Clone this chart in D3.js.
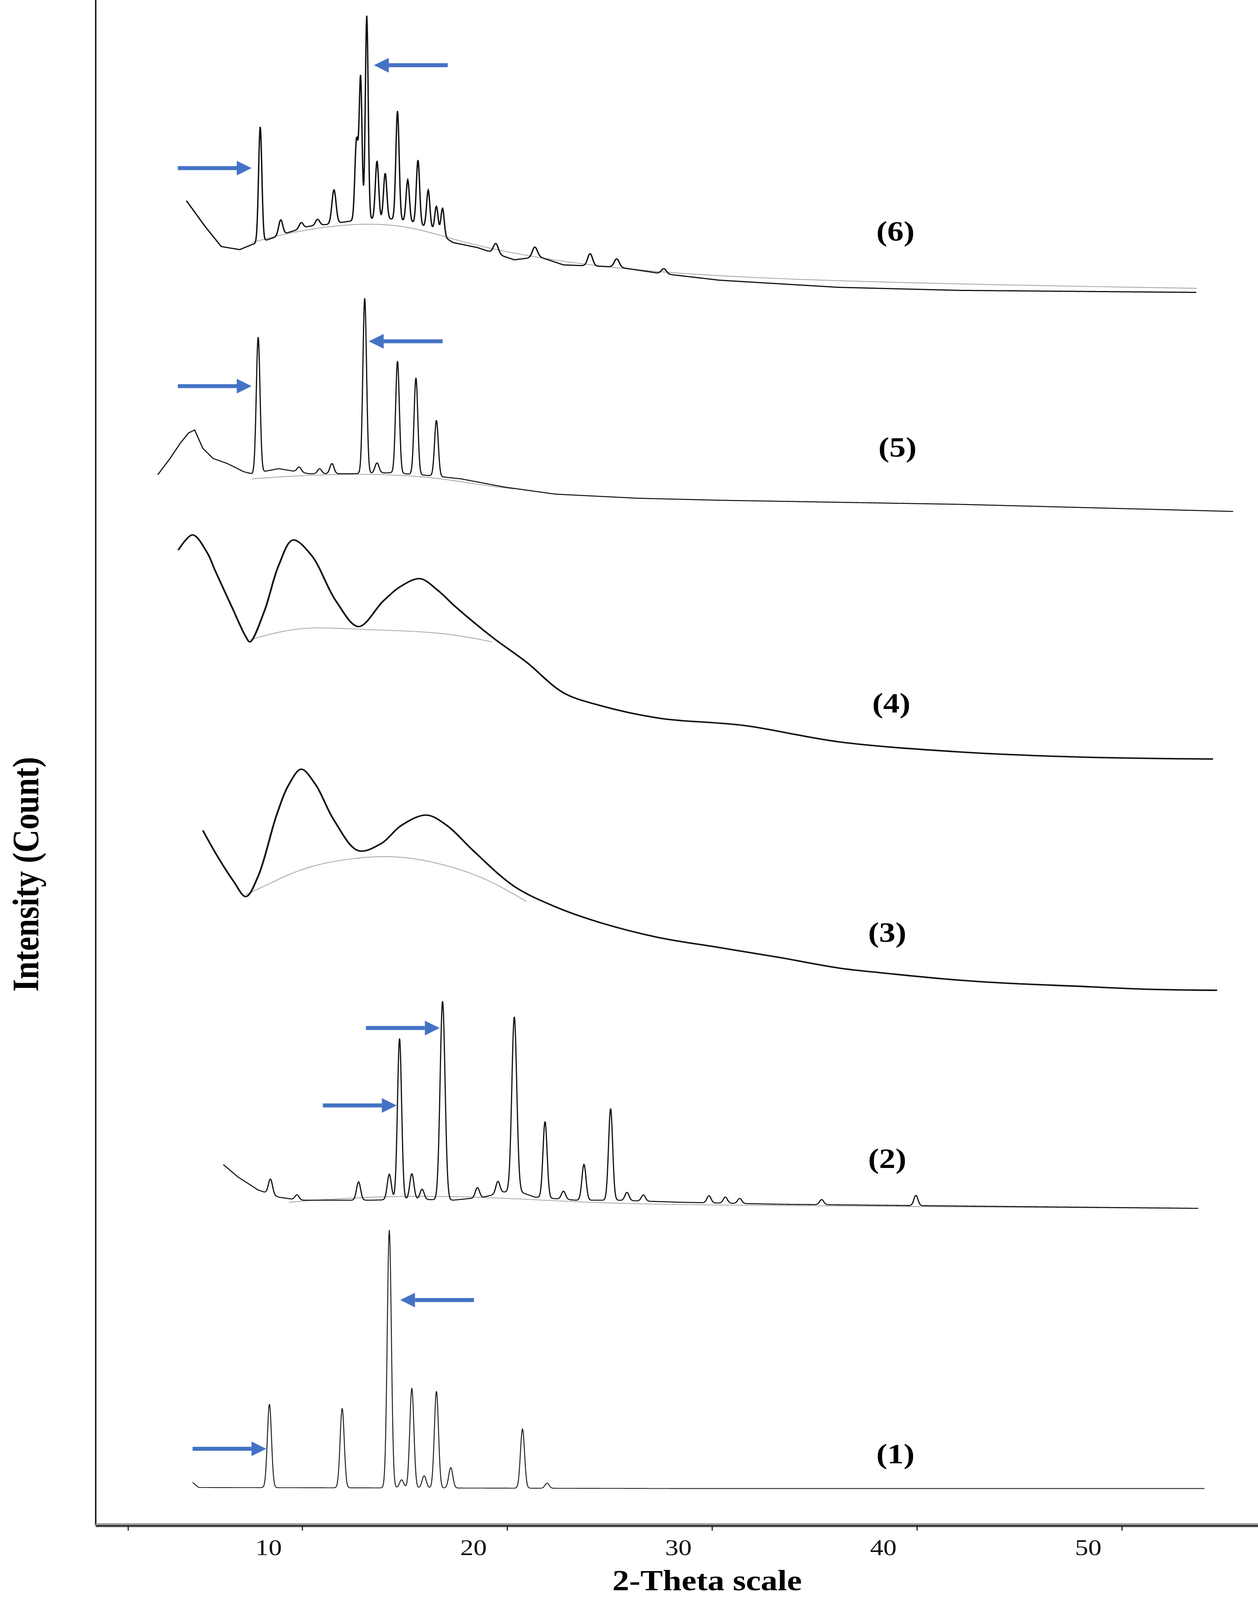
<!DOCTYPE html>
<html><head><meta charset="utf-8">
<script src="https://cdn.jsdelivr.net/npm/d3@7"></script>
<style>html,body{margin:0;padding:0;background:#fff;overflow:hidden}svg{display:block;width:100vw;height:100vh}</style>
</head><body>
<svg id="chart" viewBox="0 0 3220 4817" preserveAspectRatio="none"></svg>
<script>
// stacked XRD patterns: values are offset counts, [2theta, intensity]
const xTicks = [10, 20, 30, 40, 50];

const bg1 = [[6.3,45],[6.6,40],[30,39],[55.7,39]];
const peaks1 = [[10.05,82,0.1],[13.6,78,0.1],[15.9,253,0.1],[16.5,8,0.1],[17.0,98,0.1],[17.6,12,0.1],[18.2,95,0.1],[18.9,20,0.1],[22.4,58,0.1],[23.6,5,0.1]];

const bg2 = [[7.8,357],[8.5,345],[9.5,332],[10.5,325],[11.5,322],[13,322],[15,322],[17,323],[19,322],[20.5,325],[21.5,330],[22.3,330],[23,325],[25,322],[27,322],[30,320],[35,318],[40,317],[45,316],[55.4,314]];
const peaks2 = [[10.1,15,0.1],[11.4,5,0.1],[14.4,18,0.1],[15.9,25,0.1],[16.4,158,0.1],[17.0,25,0.1],[17.5,10,0.1],[18.5,195,0.12],[20.2,10,0.1],[21.2,12,0.1],[22.0,172,0.12],[23.5,75,0.1],[24.4,8,0.1],[25.4,35,0.1],[26.7,90,0.1],[27.5,8,0.1],[28.3,6,0.1],[31.5,7,0.1],[32.3,6,0.1],[33,5,0.1],[37,5,0.1],[41.6,10,0.1]];
const hump2 = [[11,320],[15,326],[20,326],[25,320],[30,317],[55,314]];

const bg3 = [[6.8,685],[7.5,660],[8.3,635],[8.9,620],[9.5,640],[10.4,700],[11.0,730],[11.6,745],[12.3,730],[13.2,695],[14.4,665],[15.5,672],[16.5,690],[17.7,700],[18.7,690],[20,665],[22,630],[24,610],[26.1,595],[29,580],[32,570],[35,560],[37.8,550],[40,545],[43.7,538],[46,535],[49.5,532],[53,529],[56.3,528]];
const hump3 = [[8.9,622],[10,632],[12,652],[15.6,662],[18,655],[20.5,640],[22.6,615]];

const bg4 = [[5.6,960],[6.3,975],[7.0,958],[7.4,940],[8.2,905],[8.9,875],[9.1,870],[9.8,900],[10.5,945],[11.2,970],[12.1,955],[13.3,910],[14.4,885],[15.6,910],[16.5,925],[17.4,932],[18.3,920],[19.1,905],[20.9,875],[22.6,850],[24.4,820],[26.1,808],[29.1,795],[33.2,788],[37.8,772],[43.7,762],[49.5,757],[56.1,755]];
const hump4 = [[9.1,872],[10.5,880],[12.1,885],[14.4,882],[18.5,880],[20.9,870]];

const bg5 = [[4.6,1034],[5.2,1050],[5.7,1065],[6.1,1075],[6.4,1078],[6.8,1060],[7.3,1050],[8,1045],[8.8,1037],[9.2,1035],[10.5,1040],[12,1035],[14,1035],[16,1036],[18,1033],[19.4,1030],[21.5,1022],[24,1015],[28,1011],[32,1009],[43.7,1005],[57.1,998]];
const peaks5 = [[9.5,133,0.09],[11.5,5,0.1],[12.5,5,0.1],[13.1,10,0.1],[14.7,172,0.09],[15.3,10,0.1],[16.3,110,0.09],[17.2,95,0.09],[18.2,55,0.09]];
const hump5 = [[9.2,1030],[12,1034],[15,1035],[18,1032],[20,1025],[22,1020]];

const bg6 = [[6.0,1303],[6.9,1278],[7.7,1258],[8.6,1255],[9.2,1260],[10,1265],[11,1272],[12,1278],[13,1280],[14,1283],[15,1285],[16,1285],[17,1282],[18,1275],[19.0,1262],[20.2,1257],[22,1245],[23.2,1248],[24.4,1240],[27,1238],[29,1232],[32,1225],[37.8,1218],[43.7,1215],[55.3,1213]];
const peaks6 = [[9.6,113,0.08],[10.6,15,0.1],[11.6,6,0.1],[12.4,6,0.1],[13.2,33,0.1],[14.3,79,0.08],[14.5,139,0.07],[14.8,200,0.07],[15.3,57,0.08],[15.7,45,0.08],[16.3,107,0.08],[16.8,41,0.08],[17.3,63,0.08],[17.8,37,0.08],[18.2,25,0.08],[18.5,27,0.08],[21.1,10,0.12],[23.0,10,0.12],[25.7,12,0.12],[27,8,0.12],[29.3,5,0.12]];
const hump6 = [[9.2,1262],[11,1272],[14.4,1282],[17,1278],[19.1,1264],[23.2,1245],[32,1225],[55.3,1217]];

const patternLabels = [["(1)",40.6,70],["(2)",40.2,360],["(3)",40.2,582],["(4)",40.4,807],["(5)",40.7,1058],["(6)",40.6,1270]];
// arrows: tip 2theta, offset intensity, direction (+1 points right)
const arrows = [[9.18,1335,1],[15.15,1436,-1],[9.18,1121,1],[14.9,1165,-1],[18.36,491,1],[16.26,415,1],[16.43,224,-1],[9.9,78,1]];

const svg = d3.select("#chart");
const x = d3.scaleLinear().domain([10, 50]).range([687, 2785]);
const y = d3.scaleLinear().domain([0, 1500]).range([4601, 0]);
const axisY = 4592, axisX = 245;

function bgAt(bg, t) {
  for (let i = 0; i < bg.length - 1; i++) {
    if (t >= bg[i][0] && t <= bg[i+1][0]) {
      const f = (t - bg[i][0]) / (bg[i+1][0] - bg[i][0]);
      return bg[i][1] + f * (bg[i+1][1] - bg[i][1]);
    }
  }
  return bg[bg.length-1][1];
}
function pattern(bg, peaks) {
  const pts = [];
  const t0 = bg[0][0], t1 = bg[bg.length-1][0];
  for (let t = t0; t <= t1; t += 0.02) {
    let v = bgAt(bg, t);
    peaks.forEach(p => { v += p[1] * Math.exp(-0.5 * ((t - p[0]) / p[2]) ** 2); });
    pts.push([t, v]);
  }
  return pts;
}

const line = d3.line().x(d => x(d[0])).y(d => y(d[1]));
const smooth = d3.line().x(d => x(d[0])).y(d => y(d[1])).curve(d3.curveBasis);
const spline = d3.line().x(d => x(d[0])).y(d => y(d[1])).curve(d3.curveCatmullRom);

[hump2, hump3, hump4, hump5, hump6].forEach(h => {
  svg.append("path").attr("d", smooth(h)).attr("fill", "none").attr("stroke", "#aaa").attr("stroke-width", 2.5);
});

svg.append("path").attr("d", line(pattern(bg1, peaks1))).attr("fill","none").attr("stroke","#222").attr("stroke-width",2.5);
svg.append("path").attr("d", line(pattern(bg2, peaks2))).attr("fill","none").attr("stroke","#111").attr("stroke-width",3);
svg.append("path").attr("d", spline(bg3)).attr("fill","none").attr("stroke","#111").attr("stroke-width",4.5);
svg.append("path").attr("d", spline(bg4)).attr("fill","none").attr("stroke","#111").attr("stroke-width",4.5);
svg.append("path").attr("d", line(pattern(bg5, peaks5))).attr("fill","none").attr("stroke","#111").attr("stroke-width",3);
svg.append("path").attr("d", line(pattern(bg6, peaks6))).attr("fill","none").attr("stroke","#111").attr("stroke-width",3.5);

// arrows
const arrowLen = 3.6;
arrows.forEach(a => {
  const tip = x(a[0]), tail = x(a[0] - a[2] * arrowLen), yy = y(a[1]);
  const headBase = tip - a[2] * 38;
  svg.append("line").attr("x1", tail).attr("x2", headBase).attr("y1", yy).attr("y2", yy)
    .attr("stroke", "#4472C4").attr("stroke-width", 12);
  svg.append("path").attr("d", `M${tip},${yy}L${headBase},${yy-22}L${headBase},${yy+22}Z`).attr("fill", "#4472C4");
});

svg.selectAll(".plabel").data(patternLabels).enter().append("text")
  .attr("x", d => x(d[1])).attr("y", d => y(d[2]))
  .attr("text-anchor", "middle").attr("dominant-baseline", "middle")
  .attr("font-family", "Liberation Serif").attr("font-weight", "bold").attr("font-size", 84)
  .text(d => d[0]);

// axes
svg.append("line").attr("x1", axisX).attr("x2", axisX).attr("y1", 0).attr("y2", axisY).attr("stroke", "#222").attr("stroke-width", 4);
svg.append("line").attr("x1", axisX).attr("x2", 3220).attr("y1", axisY).attr("y2", axisY).attr("stroke", "#999").attr("stroke-width", 12);
svg.append("line").attr("x1", axisX).attr("x2", 3220).attr("y1", axisY + 2).attr("y2", axisY + 2).attr("stroke", "#333").attr("stroke-width", 5);
const ax = svg.append("g").attr("transform", `translate(0,${axisY + 5})`)
  .call(d3.axisBottom(x).tickValues(xTicks).tickSize(0).tickPadding(36));
ax.select(".domain").remove();
ax.selectAll("text").attr("font-family", "Liberation Serif").attr("font-size", 68).attr("fill", "#111");
svg.selectAll(".tk").data([1.5].concat(xTicks)).enter().append("line")
  .attr("x1", d => x(d) + 87).attr("x2", d => x(d) + 87)
  .attr("y1", axisY).attr("y2", axisY + 16).attr("stroke", "#222").attr("stroke-width", 3);

svg.append("text").attr("x", 1810).attr("y", 4788).attr("text-anchor", "middle")
  .attr("font-family", "Liberation Serif").attr("font-weight", "bold").attr("font-size", 86)
  .text("2-Theta scale");
svg.append("text").attr("transform", "translate(98,2632) rotate(-90)").attr("text-anchor", "middle")
  .attr("font-family", "Liberation Serif").attr("font-weight", "bold").attr("font-size", 96)
  .text("Intensity (Count)");
</script>
</body></html>
